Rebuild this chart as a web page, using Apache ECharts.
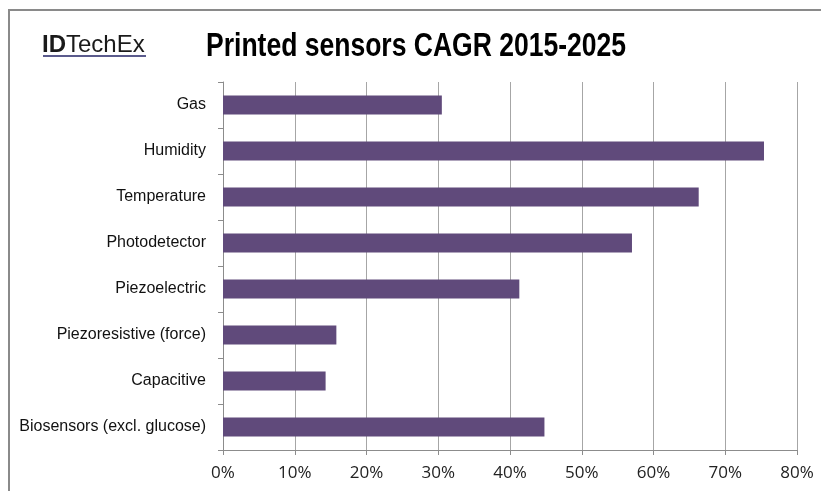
<!DOCTYPE html>
<html>
<head>
<meta charset="utf-8">
<script src="https://cdn.jsdelivr.net/npm/echarts@6/dist/echarts.min.js"></script>
<style>
html,body{margin:0;padding:0;background:#fff;}
#chart{width:821px;height:491px;}
</style>
</head>
<body>
<div id="chart"></div>
<script>
const titleText = 'Printed sensors CAGR 2015-2025';
const categories = ['Gas', 'Humidity', 'Temperature', 'Photodetector', 'Piezoelectric', 'Piezoresistive (force)', 'Capacitive', 'Biosensors (excl. glucose)'];
const cagrValues = [30.5, 75.4, 66.3, 57.0, 41.3, 15.8, 14.3, 44.8];
const xTicks = { min: 0, max: 80, interval: 10 };

const chart = echarts.init(document.getElementById('chart'), null, { renderer: 'canvas' });
chart.setOption({
  backgroundColor: '#ffffff',
  animation: false,
  graphic: [
    { type: 'polyline', shape: { points: [[9, 491], [9, 10], [821, 10]] }, style: { stroke: '#8a8a8a', lineWidth: 2, fill: null } },
    { type: 'text', x: 206, y: 30, scaleX: 0.78, style: {
        text: titleText,
        fontFamily: '"Liberation Sans", Arial, sans-serif', fontWeight: 'bold', fontSize: 34, fill: '#000'
    } },
    { type: 'text', x: 42, y: 33, style: {
        text: '{b|ID}{n|TechEx}',
        rich: {
          b: { fontFamily: '"Liberation Sans", Arial, sans-serif', fontWeight: 'bold', fontSize: 24, fill: '#1a1a1a' },
          n: { fontFamily: '"Liberation Sans", Arial, sans-serif', fontSize: 24, fill: '#1a1a1a' }
        }
    } },
    { type: 'line', shape: { x1: 43, y1: 56, x2: 146, y2: 56 }, style: { stroke: '#5a5a8c', lineWidth: 2 } }
  ],
  grid: { left: 223, right: 24, top: 82, bottom: 41, containLabel: false },
  xAxis: {
    type: 'value',
    min: xTicks.min, max: xTicks.max, interval: xTicks.interval,
    axisLine: { show: true, lineStyle: { color: '#8c8c8c', width: 1 } },
    axisTick: { show: true, length: 5, lineStyle: { color: '#8c8c8c' } },
    splitLine: { show: true, lineStyle: { color: '#a6a6a6', width: 1 } },
    axisLabel: { formatter: '{value}%', fontFamily: '"Open Sans", sans-serif', fontSize: 17, color: '#222', margin: 15 }
  },
  yAxis: {
    type: 'category',
    data: categories,
    inverse: true,
    axisLine: { show: true, lineStyle: { color: '#8c8c8c', width: 1 } },
    axisTick: { show: true, length: 5, alignWithLabel: false, lineStyle: { color: '#8c8c8c' } },
    axisLabel: { fontFamily: '"Liberation Sans", Arial, sans-serif', fontSize: 16, color: '#111', margin: 17 }
  },
  series: [{
    type: 'bar',
    data: cagrValues,
    barCategoryGap: '59%',
    itemStyle: { color: '#604a7b' }
  }]
});
</script>
</body>
</html>
